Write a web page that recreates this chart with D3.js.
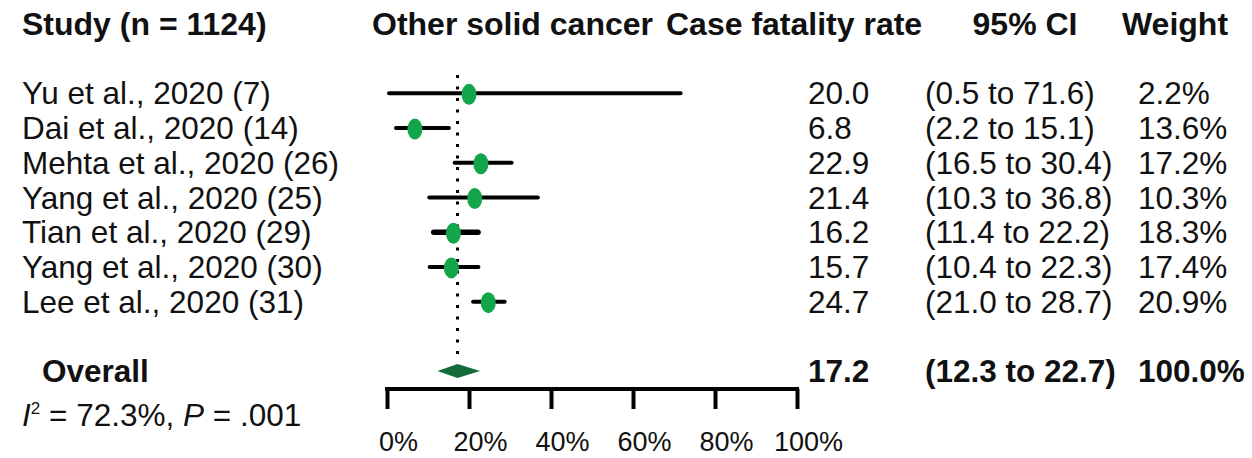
<!DOCTYPE html>
<html>
<head>
<meta charset="utf-8">
<script src="https://cdn.jsdelivr.net/npm/d3@7"></script>
<style>
  body { margin: 0; background: #fff; }
  text { font-family: "Liberation Sans", Arial, sans-serif; fill: #111; }
</style>
</head>
<body>
<svg id="chart" width="1252" height="458"></svg>
<script>
// study rows
var studies = ["Yu et al., 2020 (7)", "Dai et al., 2020 (14)", "Mehta et al., 2020 (26)",
  "Yang et al., 2020 (25)", "Tian et al., 2020 (29)", "Yang et al., 2020 (30)", "Lee et al., 2020 (31)"];
var rates = [20.0, 6.8, 22.9, 21.4, 16.2, 15.7, 24.7];
var lower = [0.5, 2.2, 16.5, 10.3, 11.4, 10.4, 21.0];
var upper = [71.6, 15.1, 30.4, 36.8, 22.2, 22.3, 28.7];
var weights = [2.2, 13.6, 17.2, 10.3, 18.3, 17.4, 20.9];

// pooled estimate
var overall = {rate: 17.2, lower: 12.3, upper: 22.7, weight: 100.0};
var heterogeneity = {i2: "72.3%", p: ".001"};

var headers = ["Study (n = 1124)", "Other solid cancer", "Case fatality rate", "95% CI", "Weight"];
var tickValues = [0, 20, 40, 60, 80, 100];

var svg = d3.select("#chart");
var fs = 31.5;

var x = d3.scaleLinear().domain([0, 100]).range([387, 797]);
var y = d3.scaleBand().domain(d3.range(studies.length)).range([76, 319]);
var rowY = function (i) { return y(i) + y.bandwidth() / 2; };
var overallY = 371;

var col = {study: 22, est: 808, ci: 925, weight: 1138};

// headers
var hx = [22, 372, 666, 1025, 1175];
var hAnchor = ["start", "start", "start", "middle", "middle"];
svg.append("g").selectAll("text")
  .data(headers)
  .enter().append("text")
  .attr("x", function (d, i) { return hx[i]; })
  .attr("y", 35)
  .attr("text-anchor", function (d, i) { return hAnchor[i]; })
  .style("font-weight", "bold")
  .style("font-size", "32px")
  .text(function (d) { return d; });

// reference dotted line at pooled estimate
svg.append("line")
  .attr("x1", x(overall.rate)).attr("x2", x(overall.rate))
  .attr("y1", 75).attr("y2", 362)
  .attr("stroke", "#000")
  .attr("stroke-width", 3)
  .attr("stroke-dasharray", "3,8.5");

var rows = svg.append("g").selectAll("g")
  .data(studies)
  .enter().append("g");

// CI lines
rows.append("line")
  .attr("x1", function (d, i) { return x(lower[i]); })
  .attr("x2", function (d, i) { return x(upper[i]); })
  .attr("y1", function (d, i) { return rowY(i); })
  .attr("y2", function (d, i) { return rowY(i); })
  .attr("stroke", "#000")
  .attr("stroke-width", function (d, i) { return weights[i] > 18 && weights[i] < 20 ? 5.5 : 4; })
  .attr("stroke-linecap", "round");

// point estimates
rows.append("ellipse")
  .attr("cx", function (d, i) { return x(rates[i]); })
  .attr("cy", function (d, i) { return rowY(i) + 1; })
  .attr("rx", 7.5)
  .attr("ry", 10.5)
  .attr("fill", "#12a54a");

// text columns
rows.append("text")
  .attr("x", col.study)
  .attr("y", function (d, i) { return rowY(i) + 11; })
  .style("font-size", fs + "px")
  .text(function (d) { return d; });

rows.append("text")
  .attr("x", col.est)
  .attr("y", function (d, i) { return rowY(i) + 11; })
  .style("font-size", fs + "px")
  .text(function (d, i) { return rates[i].toFixed(1); });

rows.append("text")
  .attr("x", col.ci)
  .attr("y", function (d, i) { return rowY(i) + 11; })
  .style("font-size", fs + "px")
  .text(function (d, i) { return "(" + lower[i].toFixed(1) + " to " + upper[i].toFixed(1) + ")"; });

rows.append("text")
  .attr("x", col.weight)
  .attr("y", function (d, i) { return rowY(i) + 11; })
  .style("font-size", fs + "px")
  .text(function (d, i) { return weights[i].toFixed(1) + "%"; });

// overall diamond
svg.append("path")
  .attr("d", "M" + x(overall.lower) + "," + overallY +
    "L" + x(overall.rate) + "," + (overallY - 7) +
    "L" + x(overall.upper) + "," + overallY +
    "L" + x(overall.rate) + "," + (overallY + 7) + "Z")
  .attr("fill", "#136b37");

var ov = svg.append("g").style("font-weight", "bold").style("font-size", fs + "px");
ov.append("text").attr("x", 42).attr("y", overallY + 11).text("Overall");
ov.append("text").attr("x", col.est).attr("y", overallY + 11).text(overall.rate.toFixed(1));
ov.append("text").attr("x", col.ci).attr("y", overallY + 11)
  .text("(" + overall.lower.toFixed(1) + " to " + overall.upper.toFixed(1) + ")");
ov.append("text").attr("x", col.weight).attr("y", overallY + 11).text(overall.weight.toFixed(1) + "%");

// heterogeneity
var het = svg.append("text").attr("x", 22).attr("y", 426).style("font-size", fs + "px");
het.append("tspan").style("font-style", "italic").text("I");
het.append("tspan").attr("dy", -12).style("font-size", "17px").text("2");
het.append("tspan").attr("dy", 12).text(" = " + heterogeneity.i2 + ", ");
het.append("tspan").style("font-style", "italic").text("P");
het.append("tspan").text(" = " + heterogeneity.p);

// x axis
var xAxis = d3.axisBottom(x)
  .tickValues(tickValues)
  .tickSize(20)
  .tickFormat(function (d) { return d + "%"; });

var ax = svg.append("g")
  .attr("transform", "translate(0,389)")
  .call(xAxis);
ax.select(".domain")
  .attr("d", "M" + x(0) + ",0H" + x(100))
  .attr("stroke", "#000")
  .attr("stroke-width", 4)
  .attr("stroke-linecap", "square");
ax.selectAll(".tick line").attr("stroke", "#000").attr("stroke-width", 4);
ax.selectAll(".tick text")
  .attr("y", 62)
  .attr("dy", 0)
  .attr("dx", 11)
  .style("font-family", "'Liberation Sans', Arial, sans-serif")
  .style("font-size", "27px")
  .attr("fill", "#111");
</script>
</body>
</html>
